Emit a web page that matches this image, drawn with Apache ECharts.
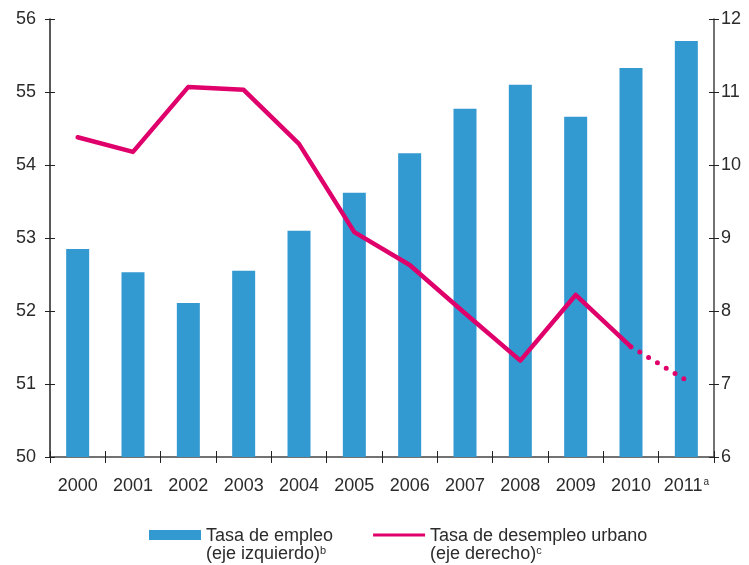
<!DOCTYPE html>
<html>
<head>
<meta charset="utf-8">
<script src="https://cdn.jsdelivr.net/npm/echarts@6/dist/echarts.min.js"></script>
<style>html,body{margin:0;padding:0;background:#fff}#c{width:749px;height:565px}</style>
</head>
<body>
<div id="c"></div>
<script>
const years = ['2000','2001','2002','2003','2004','2005','2006','2007','2008','2009','2010','2011'];
const empleo = [52.85, 52.53, 52.11, 52.55, 53.10, 53.62, 54.16, 54.77, 55.10, 54.66, 55.33, 55.70];
const desempleo = [10.38, 10.18, 11.07, 11.03, 10.29, 9.08, 8.63, 7.97, 7.32, 8.22, 7.51, 7.05];
const projectedFrom = 10; // index where dotted (projected) part begins
const leftTicks = [50, 51, 52, 53, 54, 55, 56];
const rightTicks = [6, 7, 8, 9, 10, 11, 12];
const nameEmpleo = 'Tasa de empleo';
const nameDesempleo = 'Tasa de desempleo urbano';

const solidData = desempleo.map((v, i) => i <= projectedFrom ? v : null);
const dottedData = desempleo.map((v, i) => i >= projectedFrom ? v : null);

const FONT = 'Liberation Sans, Arial, sans-serif';
const TXT = '#2b2b2b';
const PINK = '#e0006b';
const chart = echarts.init(document.getElementById('c'));
chart.setOption({
  animation: false,
  grid: { left: 50, right: 35, top: 19, bottom: 108 },
  legend: {
    data: [
      { name: nameEmpleo, icon: 'rect' },
      { name: nameDesempleo, icon: 'path://M0,0M0,3.5L52,3.5L52,6.5L0,6.5ZM52,10' }
    ],
    left: 149, top: 527, padding: 0,
    itemWidth: 52, itemHeight: 10, itemGap: 40,
    selectedMode: false,
    formatter: function (n) {
      if (n === nameEmpleo) return '{t|Tasa de empleo}\n{t|(eje izquierdo)}{s|b}';
      return '{t|Tasa de desempleo urbano}\n{t|(eje derecho)}{s|c}';
    },
    textStyle: {
      fontFamily: FONT, color: TXT, padding: [20, 0, 0, 0],
      rich: {
        t: { fontSize: 18, lineHeight: 18, fontFamily: FONT, color: TXT },
        s: { fontSize: 11, lineHeight: 18, fontFamily: FONT, color: TXT, verticalAlign: 'top', padding: [0, 0, 6, 0] }
      }
    }
  },
  xAxis: [
    {
      type: 'category', data: years, boundaryGap: true, position: 'bottom',
      axisLine: { lineStyle: { color: '#444', width: 1.5 } },
      axisTick: { show: true, length: 6, lineStyle: { color: '#222' }, interval: 0 },
      axisLabel: {
        margin: 20, fontSize: 18, fontFamily: FONT, color: TXT, interval: 0,
        formatter: function (v) { return v === '2011' ? '{t|2011}{s|a}' : '{t|' + v + '}'; },
        rich: {
          t: { fontSize: 18, fontFamily: FONT, color: TXT },
          s: { fontSize: 10, fontFamily: FONT, color: TXT, verticalAlign: 'top', padding: [0, 0, 8, 1] }
        }
      }
    },
    {
      type: 'category', data: years, boundaryGap: true, position: 'bottom',
      axisLine: { show: false },
      axisTick: { show: true, inside: true, length: 6, lineStyle: { color: '#222' }, interval: 0 },
      axisLabel: { show: false }
    }
  ],
  yAxis: [
    {
      type: 'value', min: 50, max: 56, interval: 1, position: 'left',
      splitLine: { show: false },
      axisLine: { show: true, lineStyle: { color: '#222', width: 1.5 } },
      axisTick: { show: true, length: 5, lineStyle: { color: '#222' } },
      axisLabel: { margin: 14, fontSize: 18, fontFamily: FONT, color: TXT,
        formatter: v => leftTicks.includes(v) ? String(v) : '' }
    },
    {
      type: 'value', min: 6, max: 12, interval: 1, position: 'right',
      splitLine: { show: false },
      axisLine: { show: true, lineStyle: { color: '#444', width: 1.5 } },
      axisTick: { show: true, length: 5, lineStyle: { color: '#222' } },
      axisLabel: { margin: 7, fontSize: 18, fontFamily: FONT, color: TXT,
        formatter: v => rightTicks.includes(v) ? String(v) : '' }
    },
    {
      type: 'value', min: 50, max: 56, interval: 1, position: 'left',
      splitLine: { show: false }, axisLine: { show: false },
      axisTick: { show: true, inside: true, length: 5, lineStyle: { color: '#222' } },
      axisLabel: { show: false }
    },
    {
      type: 'value', min: 6, max: 12, interval: 1, position: 'right',
      splitLine: { show: false }, axisLine: { show: false },
      axisTick: { show: true, inside: true, length: 5, lineStyle: { color: '#222' } },
      axisLabel: { show: false }
    }
  ],
  series: [
    {
      name: nameEmpleo, type: 'bar', yAxisIndex: 0, data: empleo,
      barWidth: 23, itemStyle: { color: '#3399d1' }, z: 1
    },
    {
      name: nameDesempleo, type: 'line', yAxisIndex: 1, data: solidData,
      symbol: 'none', connectNulls: false,
      lineStyle: { color: PINK, width: 4.5, cap: 'round', join: 'round' },
      itemStyle: { color: PINK }, z: 3
    },
    {
      name: 'proj', type: 'line', yAxisIndex: 1, data: dottedData,
      symbol: 'none', connectNulls: false,
      lineStyle: { color: PINK, width: 5, type: [0, 10.3], cap: 'round' },
      itemStyle: { color: PINK }, z: 3
    }
  ]
});
</script>
</body>
</html>
